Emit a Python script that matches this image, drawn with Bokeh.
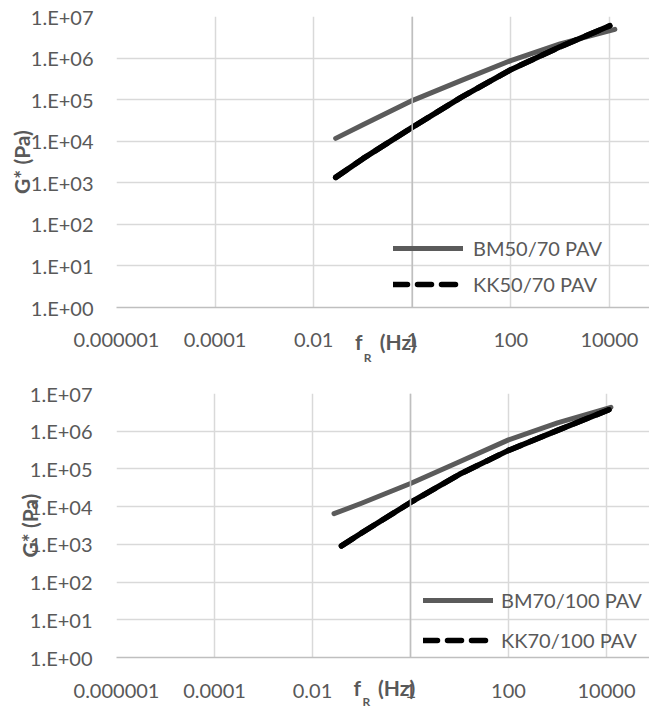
from bokeh.embed import file_html
from bokeh.layouts import column
from bokeh.models import (CustomJSTickFormatter, FixedTicker, Legend,
                          LegendItem, LogAxis, Range1d, Span)
from bokeh.plotting import figure
from bokeh.resources import INLINE

# Master curves: reduced frequency f_R (Hz) against complex modulus G* (Pa)
bm5070_f = [0.028, 0.1, 1, 10, 100, 1000, 12900]
bm5070_g = [1.17e4, 2.5e4, 9.5e4, 2.9e5, 8.7e5, 2.2e6, 4.9e6]
kk5070_f = [0.028, 0.1, 1, 10, 100, 1000, 10200]
kk5070_g = [1.35e3, 3.8e3, 2.15e4, 1.15e5, 5.25e5, 1.86e6, 6.0e6]

bm70100_f = [0.0275, 0.1, 1, 10, 100, 1000, 12300]
bm70100_g = [6.5e3, 1.23e4, 4.1e4, 1.55e5, 5.9e5, 1.66e6, 4.3e6]
kk70100_f = [0.039, 0.1, 1, 10, 100, 1000, 11200]
kk70100_g = [9.1e2, 2.0e3, 1.29e4, 7.2e4, 3.1e5, 1.05e6, 3.7e6]

x_ticks = [1e-6, 1e-4, 1e-2, 1, 100, 1e4]
x_tick_labels = ["0.000001", "0.0001", "0.01", "1", "100", "10000"]
y_ticks = [1e0, 1e1, 1e2, 1e3, 1e4, 1e5, 1e6, 1e7]
y_tick_labels = ["1.E+00", "1.E+01", "1.E+02", "1.E+03",
                 "1.E+04", "1.E+05", "1.E+06", "1.E+07"]

# x-axis title pieces ("f", subscript "R", "(Hz)") and where they sit on the axis
title_ticks = [0.082, 0.52]
title_labels = ["f", "(Hz)"]
sub_ticks = [0.125]
sub_labels = ["R"]

FONT = "Lato"
TEXT = "#595959"
GRID = "#d9d9d9"
AXIS = "#bfbfbf"
GRAY = "#5b5b5b"

LOOKUP = """
const i = vals.findIndex(v => Math.abs(Math.log10(v) - Math.log10(tick)) < 1e-6);
return i >= 0 ? labs[i] : "";
"""


def fmt(vals, labs):
    return CustomJSTickFormatter(args=dict(vals=vals, labs=labs), code=LOOKUP)


def bare(ax, size, bold, standoff):
    ax.axis_line_color = None
    ax.major_tick_line_color = None
    ax.minor_tick_line_color = None
    ax.major_tick_in = 0
    ax.major_tick_out = 0
    ax.minor_tick_in = 0
    ax.minor_tick_out = 0
    ax.major_label_text_font = FONT
    ax.major_label_text_font_size = size
    ax.major_label_text_color = TEXT
    ax.major_label_text_font_style = "bold" if bold else "normal"
    ax.major_label_standoff = standoff


def panel(height, top, bottom, left, x_end, series, legend_loc, spacing,
          glyph_w, standoff, xs, ys, ts, rs, ylab_s):
    p = figure(width=649, height=height, x_axis_type="log", y_axis_type="log",
               x_range=Range1d(1e-6, x_end), y_range=Range1d(1e0, 1e7),
               output_backend="svg", toolbar_location=None,
               min_border_left=left, min_border_right=0,
               min_border_top=top, min_border_bottom=bottom,
               background_fill_color="white", border_fill_color="white")
    p.outline_line_color = None

    xaxis = p.xaxis[0]
    yaxis = p.yaxis[0]
    xaxis.ticker = FixedTicker(ticks=x_ticks)
    yaxis.ticker = FixedTicker(ticks=y_ticks)
    xaxis.formatter = fmt(x_ticks, x_tick_labels)
    yaxis.formatter = fmt(y_ticks, y_tick_labels)
    bare(xaxis, "20px", False, xs)
    bare(yaxis, "20px", False, ys)
    xaxis.axis_line_color = AXIS
    xaxis.axis_line_width = 1.5

    yaxis.axis_label = "G* (Pa)"
    yaxis.axis_label_text_font = FONT
    yaxis.axis_label_text_font_size = "21px"
    yaxis.axis_label_text_font_style = "bold"
    yaxis.axis_label_text_color = TEXT
    yaxis.axis_label_standoff = ylab_s

    # x-axis title drawn as two extra label rows under the tick labels
    t_axis = LogAxis(ticker=FixedTicker(ticks=title_ticks),
                     formatter=fmt(title_ticks, title_labels))
    bare(t_axis, "21px", True, ts)
    r_axis = LogAxis(ticker=FixedTicker(ticks=sub_ticks),
                     formatter=fmt(sub_ticks, sub_labels))
    bare(r_axis, "12px", True, rs)
    p.add_layout(t_axis, "below")
    p.add_layout(r_axis, "below")

    p.grid.grid_line_color = GRID
    p.grid.grid_line_width = 1.5

    # vertical axis crossing at f_R = 1 Hz
    p.add_layout(Span(location=1, dimension="height",
                      line_color=AXIS, line_width=1.5))

    (bm_f, bm_g, bm_name), (kk_f, kk_g, kk_name) = series
    r_bm = p.line(bm_f, bm_g, line_color=GRAY, line_width=5,
                  line_cap="round", line_join="round")
    p.line(kk_f, kk_g, line_color="black", line_width=5.5,
           line_cap="round", line_join="round")
    r_kk = p.line(kk_f, kk_g, line_color="black", line_width=5.5,
                  line_dash="14 10", line_cap="round", line_join="round")

    legend = Legend(items=[LegendItem(label=bm_name, renderers=[r_bm]),
                           LegendItem(label=kk_name, renderers=[r_kk])],
                    location=legend_loc, orientation="vertical",
                    glyph_width=glyph_w, glyph_height=20, label_height=20,
                    label_standoff=standoff, spacing=spacing, padding=0,
                    margin=0, border_line_color=None, background_fill_alpha=0,
                    label_text_font=FONT, label_text_font_size="20px",
                    label_text_color=TEXT)
    p.add_layout(legend)
    return p


# top chart: frame 111..649 px wide at 49.75 px per decade
top = panel(367, 16, 60, 111, 10 ** (538 / 49.75 - 6),
            [(bm5070_f, bm5070_g, "BM50/70 PAV"),
             (kk5070_f, kk5070_g, "KK50/70 PAV")],
            (277, 11), 12, 70, 10, 25, 23, -21, -7, -6)

# bottom chart: frame 116..649 px wide at 49 px per decade
bottom = panel(344, 26, 52, 116, 10 ** (533 / 49 - 6),
               [(bm70100_f, bm70100_g, "BM70/100 PAV"),
                (kk70100_f, kk70100_g, "KK70/100 PAV")],
               (307, 5), 16, 70, 8, 26, 24, -26, -9, -15)

layout = column(top, bottom, spacing=0)
open("out.html", "w").write(file_html(layout, INLINE))
